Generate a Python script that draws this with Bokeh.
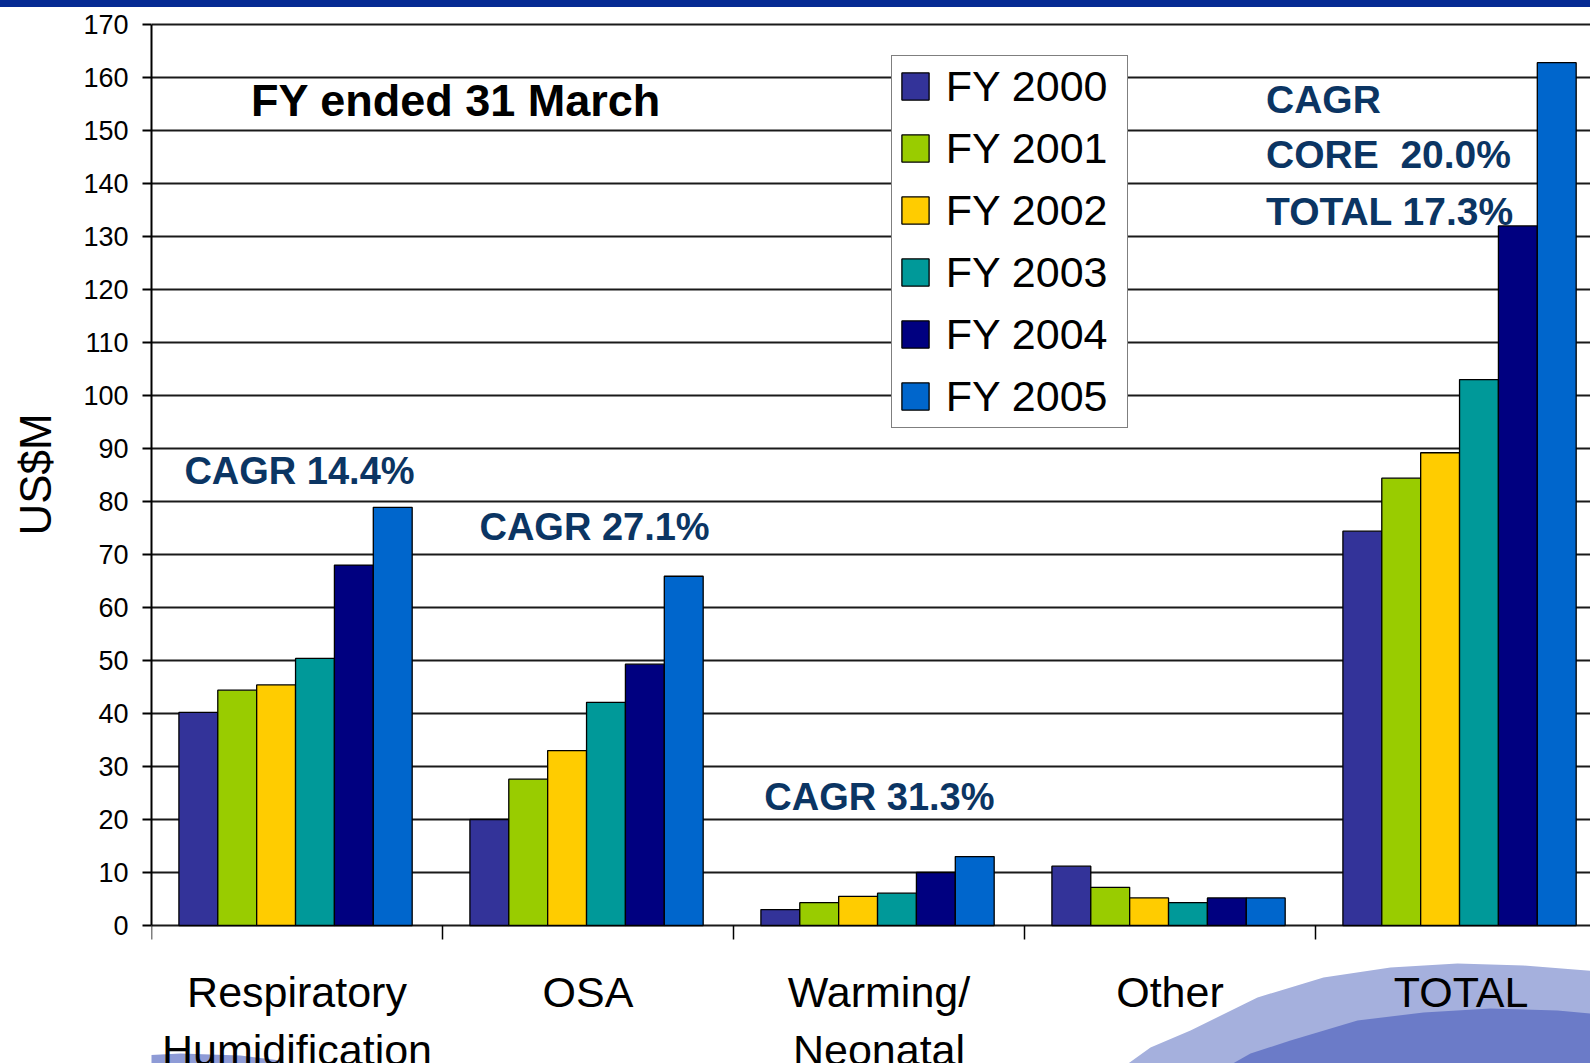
from bokeh.plotting import figure
from bokeh.layouts import column
from bokeh.models import (Range1d, FixedTicker, Label, Legend, LegendItem,
                          ColumnDataSource, Div)
from bokeh.core.properties import value
from bokeh.embed import file_html
from bokeh.resources import INLINE

# ---------------- data ----------------
categories = ["Respiratory\nHumidification", "OSA", "Warming/\nNeonatal", "Other", "TOTAL"]
series_names = ["FY 2000", "FY 2001", "FY 2002", "FY 2003", "FY 2004", "FY 2005"]
fy2000 = [40.2, 20.0, 3.0, 11.2, 74.4]
fy2001 = [44.4, 27.6, 4.3, 7.2, 84.4]
fy2002 = [45.4, 33.0, 5.5, 5.2, 89.2]
fy2003 = [50.4, 42.1, 6.1, 4.3, 103.0]
fy2004 = [68.0, 49.3, 10.0, 5.2, 132.0]
fy2005 = [78.9, 65.9, 13.0, 5.2, 162.8]
series_values = [fy2000, fy2001, fy2002, fy2003, fy2004, fy2005]
colors = ["#333399", "#99CC00", "#FFCC00", "#009999", "#000080", "#0066CC"]
y_ticks = list(range(0, 171, 10))
cagr_texts = ["CAGR 14.4%", "CAGR 27.1%", "CAGR 31.3%"]
cagr_total_lines = ["CAGR", "CORE\u00a0\u00a020.0%", "TOTAL 17.3%"]
subtitle = "FY ended 31 March"
y_label = "US$M"

FONT = "Liberation Sans"
NAVY = "#0B3563"

n_cat = len(categories)
n_ser = len(series_names)
bar_w = 0.1336
group_center = 0.495

# layout constants (page pixels)
PX_X = 291.0      # pixels per category
PX_Y = 5.3        # pixels per US$M
Y0 = 925          # page y of value 0
Y170 = 24         # page y of value 170
X0 = 151          # page x of category 0
TOP_BAR = 7
SPLIT = 941       # page y where the lower (label) strip starts
PAGE_W, PAGE_H = 1590, 1063
TICK_LEN = 14

# ======================= main chart =======================
x_rng = Range1d(0, (PAGE_W - X0) / PX_X)
p = figure(width=PAGE_W, height=SPLIT - TOP_BAR,
           x_range=x_rng,
           y_range=Range1d(-(SPLIT - Y0) / PX_Y, 170 + (Y170 - TOP_BAR) / PX_Y),
           x_axis_location=None,
           output_backend="svg", toolbar_location=None,
           min_border_left=X0, min_border_right=0,
           min_border_top=0, min_border_bottom=0,
           background_fill_color="white", border_fill_color="white")
p.outline_line_color = None

items = []
for j, (name, vals, col) in enumerate(zip(series_names, series_values, colors)):
    xs = [i + group_center + (j - (n_ser - 1) / 2) * bar_w for i in range(n_cat)]
    src = ColumnDataSource(dict(x=xs, top=vals))
    r = p.vbar(x="x", top="top", width=bar_w, bottom=0, source=src,
               fill_color=col, line_color="black", line_width=1.3)
    items.append(LegendItem(label=name, renderers=[r]))

p.xgrid.visible = False
p.ygrid.ticker = FixedTicker(ticks=y_ticks)
p.ygrid.grid_line_color = "#1a1a1a"
p.ygrid.grid_line_width = 2

ya = p.yaxis[0]
ya.bounds = (0, 170)
ya.ticker = FixedTicker(ticks=y_ticks, minor_ticks=[])
ya.axis_line_color = "black"
ya.axis_line_width = 2
ya.major_tick_out = 9
ya.major_tick_in = 0
ya.major_tick_line_width = 2
ya.minor_tick_out = 0
ya.minor_tick_in = 0
ya.major_label_text_font = FONT
ya.major_label_text_font_size = "27px"
ya.major_label_text_color = "black"
ya.major_label_standoff = 14
ya.axis_label = y_label
ya.axis_label_text_font = FONT
ya.axis_label_text_font_size = "44px"
ya.axis_label_text_font_style = "normal"
ya.axis_label_text_color = "black"
ya.axis_label_standoff = 20

# category boundary ticks hanging below the zero line
bounds = list(range(n_cat + 1))
p.segment(x0=bounds, y0=[0] * len(bounds), x1=bounds,
          y1=[-TICK_LEN / PX_Y] * len(bounds), line_color="black", line_width=1.5)

legend = Legend(items=items, location=(739.7, SPLIT - 427.5),
                orientation="vertical",
                label_text_font=FONT, label_text_font_size="43px",
                label_text_color="black", label_height=41, label_width=175,
                glyph_width=34, glyph_height=34, label_standoff=14,
                spacing=13, padding=6, margin=0,
                border_line_color="black", border_line_width=1.5,
                background_fill_color="white", background_fill_alpha=1.0)
p.add_layout(legend, "center")

p.add_layout(Label(x=0.342, y=155.6, text=subtitle, text_font=FONT,
                   text_font_size="45px", text_font_style="bold",
                   text_color="black", text_baseline="middle"))

cagr_pos = [(0.113, 85.8), (1.127, 75.2), (2.106, 24.3)]
for t, (x, y) in zip(cagr_texts, cagr_pos):
    p.add_layout(Label(x=x, y=y, text=t, text_font=FONT, text_font_size="38px",
                       text_font_style="bold", text_color=NAVY,
                       text_baseline="middle"))

for t, y in zip(cagr_total_lines, [155.8, 145.4, 134.7]):
    p.add_layout(Label(x=3.83, y=y, text=t, text_font=FONT, text_font_size="39px",
                       text_font_style="bold", text_color=NAVY,
                       text_baseline="middle"))

# ======================= lower strip: category labels =======================
q = figure(width=PAGE_W, height=PAGE_H - SPLIT,
           x_range=x_rng,
           y_range=Range1d(PAGE_H, SPLIT),       # page-pixel rows, downwards
           x_axis_location=None, y_axis_location=None,
           output_backend="svg", toolbar_location=None,
           min_border_left=X0, min_border_right=0,
           min_border_top=0, min_border_bottom=0,
           background_fill_color="white", border_fill_color="white")
q.outline_line_color = None
q.grid.visible = False


def strip_xy(pts):
    return [(X - X0) / PX_X for X, Y in pts], [Y for X, Y in pts]

# background swooshes (slide decoration)
light_pts = [(1118, 1070), (1150, 1047), (1190, 1030), (1257, 997), (1323, 977),
             (1390, 967), (1457, 963), (1523, 965), (1600, 971), (1600, 1070)]
dark_pts = [(1220, 1070), (1250, 1053), (1290, 1040), (1357, 1020), (1423, 1012),
            (1490, 1008), (1557, 1010), (1600, 1014), (1600, 1070)]
left_pts = [(30, 1070), (100, 1057), (180, 1053), (240, 1055), (280, 1060),
            (295, 1070)]
for pts, col in [(light_pts, "#A5B0DD"), (dark_pts, "#6B7BC8"), (left_pts, "#8E9BD6")]:
    xs, ys = strip_xy(pts)
    q.patch(xs, ys, fill_color=col, line_color=None)

line1 = [c.split("\n")[0] for c in categories]
line2 = [c.split("\n")[1] if "\n" in c else "" for c in categories]
centers = [i + 0.5 for i in range(n_cat)]
q.text(x=centers, y=[991.5] * n_cat, text=line1,
       text_font=value(FONT), text_font_size="43px", text_color="black",
       text_align="center", text_baseline="middle")
q.text(x=centers, y=[1049.5] * n_cat, text=line2,
       text_font=value(FONT), text_font_size="43px", text_color="black",
       text_align="center", text_baseline="middle")

top_bar = Div(text="", width=PAGE_W, height=TOP_BAR, margin=0,
              styles={"background-color": "#062A93"})

layout = column(top_bar, p, q, spacing=0)
open("out.html", "w").write(file_html(layout, INLINE))
